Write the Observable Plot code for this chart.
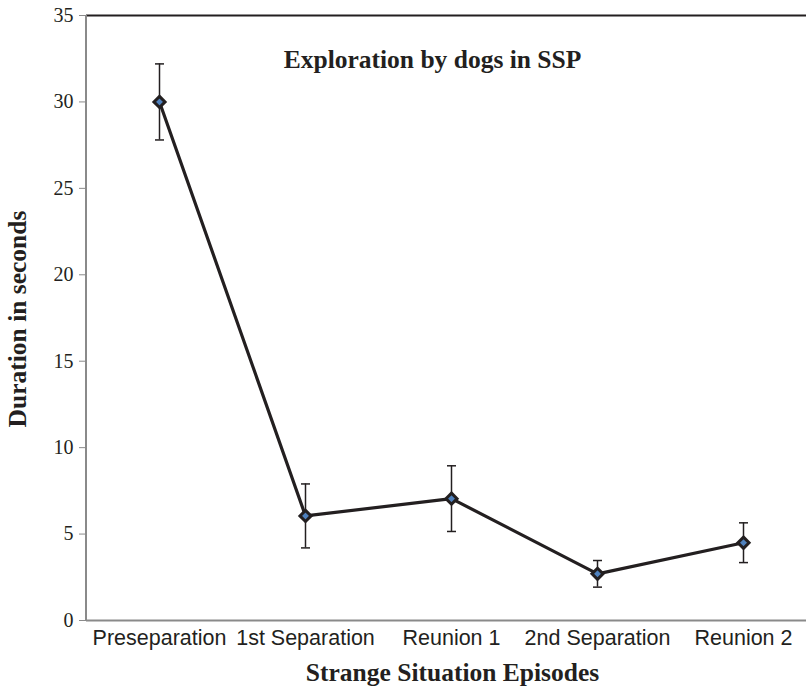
<!DOCTYPE html>
<html><head><meta charset="utf-8">
<script src="https://cdn.jsdelivr.net/npm/d3@7"></script>
<script src="https://cdn.jsdelivr.net/npm/@observablehq/plot@0.6"></script>
<style>body{margin:0;background:#fff}</style>
</head><body><div id="chart"></div>
<script>
const episodes = ["Preseparation", "1st Separation", "Reunion 1", "2nd Separation", "Reunion 2"];
const durations = [30.0, 6.05, 7.05, 2.7, 4.5];
const errors = [2.2, 1.85, 1.9, 0.77, 1.15];
const yTicks = [0, 5, 10, 15, 20, 25, 30, 35];
const title = "Exploration by dogs in SSP";
const xTitle = "Strange Situation Episodes";
const yTitle = "Duration in seconds";

const data = episodes.map((e, i) => ({
  episode: e, value: durations[i],
  lo: durations[i] - errors[i], hi: durations[i] + errors[i]
}));

const ink = "#231f20";
const axisGray = "#8a8a8a";
const cap = {draw(ctx, size) { const r = Math.sqrt(size / Math.PI); ctx.moveTo(-r, 0); ctx.lineTo(r, 0); }};

const leftAxisLine = (index, scales, values, dims) => {
  const ys = scales.y;
  return d3.create("svg:line")
    .attr("x1", dims.marginLeft).attr("x2", dims.marginLeft)
    .attr("y1", ys(0)).attr("y2", ys(35))
    .attr("stroke", axisGray).attr("stroke-width", 2).node();
};

const chart = Plot.plot({
  width: 806, height: 687,
  marginLeft: 86, marginRight: 0, marginTop: 15, marginBottom: 67,
  x: {type: "point", domain: episodes, padding: 0.5, range: [86, 816]},
  y: {domain: [0, 35]},
  marks: [
    Plot.ruleY([0], {stroke: axisGray, strokeWidth: 2}),
    Plot.ruleY([35], {stroke: ink, strokeWidth: 2}),
    leftAxisLine,
    Plot.axisY({ticks: yTicks, tickSize: 7, tickPadding: 6, stroke: axisGray, fill: ink,
      fontSize: 20, fontFamily: "Liberation Serif", label: null}),
    Plot.axisX({tickSize: 0, tickPadding: 9, fill: ink, fontSize: 21.5,
      fontFamily: "Liberation Sans", label: null}),
    Plot.ruleX(data, {x: "episode", y1: "lo", y2: "hi", stroke: ink, strokeWidth: 1.5}),
    Plot.dot(data, {x: "episode", y: "lo", symbol: cap, r: 4.5, fill: "none", stroke: ink, strokeWidth: 1.5}),
    Plot.dot(data, {x: "episode", y: "hi", symbol: cap, r: 4.5, fill: "none", stroke: ink, strokeWidth: 1.5}),
    Plot.line(data, {x: "episode", y: "value", stroke: ink, strokeWidth: 3.2}),
    Plot.dot(data, {x: "episode", y: "value", symbol: "diamond2", r: 5, fill: "#4f81bd", stroke: ink, strokeWidth: 3}),
    Plot.text([title], {text: d => d, frameAnchor: "top", textAnchor: "middle", lineAnchor: "middle",
      dx: -14, dy: 44, fontSize: 25.5, fontWeight: "bold", fontFamily: "Liberation Serif", fill: ink}),
    Plot.text([xTitle], {text: d => d, frameAnchor: "bottom", textAnchor: "middle", lineAnchor: "middle",
      dx: 6, dy: 52, fontSize: 25.5, fontWeight: "bold", fontFamily: "Liberation Serif", fill: ink}),
    Plot.text([yTitle], {text: d => d, frameAnchor: "left", textAnchor: "middle", lineAnchor: "middle",
      dx: -69, dy: 1, rotate: -90, fontSize: 25.5, fontWeight: "bold", fontFamily: "Liberation Serif", fill: ink})
  ]
});
document.getElementById("chart").append(chart);
</script>
</body></html>
